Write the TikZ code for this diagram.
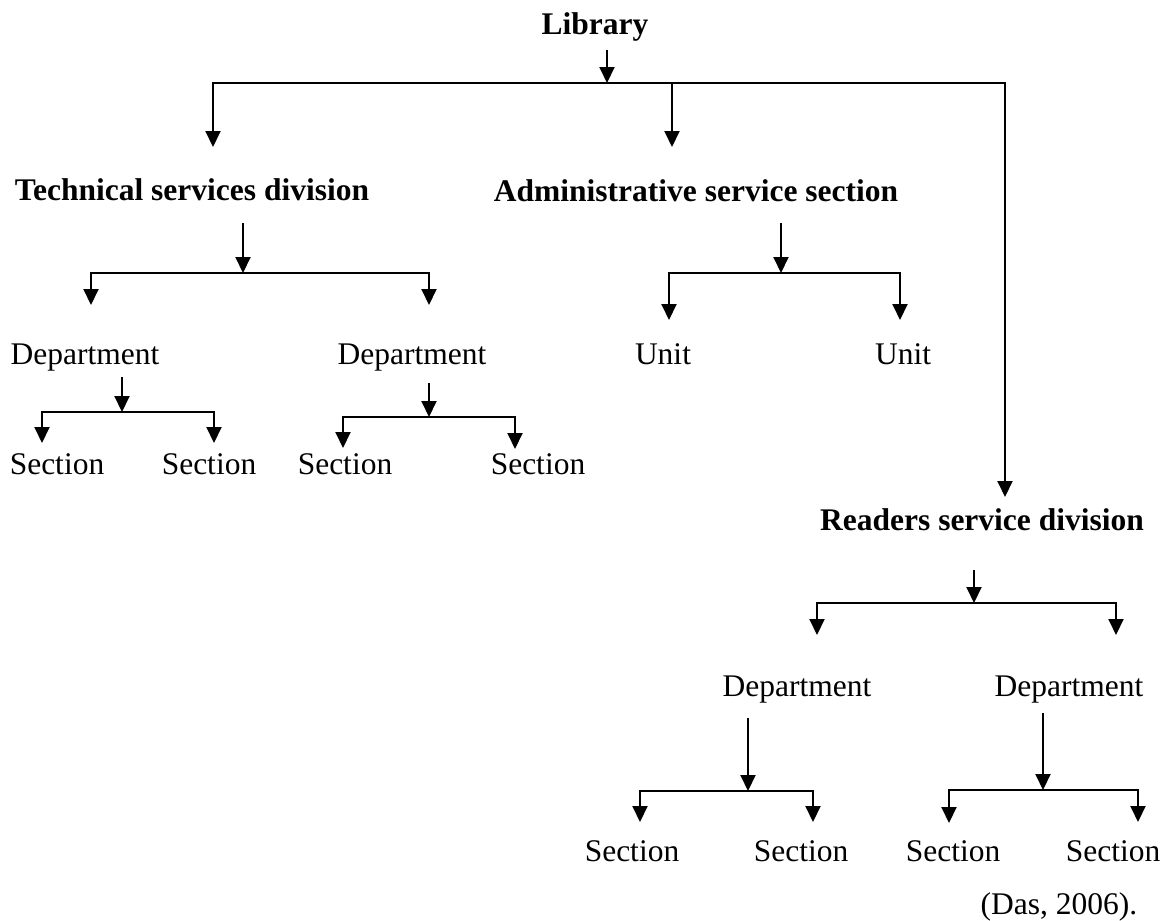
\documentclass[tikz,border=0pt]{standalone}
\usepackage{fontspec}
\setmainfont{Liberation Serif}
\usetikzlibrary{arrows.meta}

\begin{document}
\begin{tikzpicture}[x=0.5pt,y=-0.5pt,
		arr/.style={-{Triangle[length=8pt,width=7.5pt]},line width=1pt},
		txt/.style={anchor=base,inner sep=0pt,font=\fontsize{15.75}{19}\selectfont},
		head/.style={txt,font=\fontsize{15.75}{19}\selectfont\bfseries}]
		\useasboundingbox (0,0) rectangle (1173,921);
		\node[head] (lib)   at (595,34)  {Library};
		\node[head] (tech)  at (192,200) {Technical services division};
		\node[head] (admin) at (696,201) {Administrative service section};
		\node[head] (read)  at (982,530) {Readers service division};
		\node[txt] (d1) at (85,364)  {Department};
		\node[txt] (d2) at (412,364) {Department};
		\node[txt] (u1) at (663,364) {Unit};
		\node[txt] (u2) at (903,364) {Unit};
		\node[txt] (s1) at (57,474)  {Section};
		\node[txt] (s2) at (209,474) {Section};
		\node[txt] (s3) at (345,474) {Section};
		\node[txt] (s4) at (538,474) {Section};
		\node[txt] (rd1) at (797,696)  {Department};
		\node[txt] (rd2) at (1069,696) {Department};
		\node[txt] (rs1) at (632,861)  {Section};
		\node[txt] (rs2) at (801,861)  {Section};
		\node[txt] (rs3) at (953,861)  {Section};
		\node[txt] (rs4) at (1113,861) {Section};
		\node[txt] (src) at (1059,914) {(Das, 2006).};

		\coordinate (lib-out) at (607,50);   \coordinate (lib-bus) at (607,83);
		\coordinate (lib-fork) at (672,83);
		\coordinate (tech-in) at (213,147);  \coordinate (admin-in) at (672,147);
		\coordinate (read-in) at (1005,497);
		\draw[arr] (lib-out) -- (lib-bus);
		\draw[arr] (lib-bus) -| (tech-in);
		\draw[arr] (lib-fork) -- (admin-in);
		\draw[arr] (lib-bus) -| (read-in);

		\coordinate (tech-out) at (243,223); \coordinate (tech-bus) at (243,273);
		\coordinate (d1-in) at (91,305);     \coordinate (d2-in) at (429,305);
		\draw[arr] (tech-out) -- (tech-bus);
		\draw[arr] (tech-bus) -| (d1-in);
		\draw[arr] (tech-bus) -| (d2-in);

		\coordinate (admin-out) at (781,223); \coordinate (admin-bus) at (781,273);
		\coordinate (u1-in) at (669,320);     \coordinate (u2-in) at (900,320);
		\draw[arr] (admin-out) -- (admin-bus);
		\draw[arr] (admin-bus) -| (u1-in);
		\draw[arr] (admin-bus) -| (u2-in);

		\coordinate (d1-out) at (122,377);  \coordinate (d1-bus) at (122,412);
		\coordinate (s1-in) at (42,443);    \coordinate (s2-in) at (214,443);
		\draw[arr] (d1-out) -- (d1-bus);
		\draw[arr] (d1-bus) -| (s1-in);
		\draw[arr] (d1-bus) -| (s2-in);

		\coordinate (d2-out) at (429,383);  \coordinate (d2-bus) at (429,417);
		\coordinate (s3-in) at (343,448);   \coordinate (s4-in) at (515,449);
		\draw[arr] (d2-out) -- (d2-bus);
		\draw[arr] (d2-bus) -| (s3-in);
		\draw[arr] (d2-bus) -| (s4-in);

		\coordinate (read-out) at (974,570); \coordinate (read-bus) at (974,603);
		\coordinate (rd1-in) at (817,635);   \coordinate (rd2-in) at (1116,635);
		\draw[arr] (read-out) -- (read-bus);
		\draw[arr] (read-bus) -| (rd1-in);
		\draw[arr] (read-bus) -| (rd2-in);

		\coordinate (rd1-out) at (748,718);  \coordinate (rd1-bus) at (748,791);
		\coordinate (rs1-in) at (640,822);   \coordinate (rs2-in) at (813,822);
		\draw[arr] (rd1-out) -- (rd1-bus);
		\draw[arr] (rd1-bus) -| (rs1-in);
		\draw[arr] (rd1-bus) -| (rs2-in);

		\coordinate (rd2-out) at (1043,713); \coordinate (rd2-bus) at (1043,790);
		\coordinate (rs3-in) at (949,823);   \coordinate (rs4-in) at (1138,822);
		\draw[arr] (rd2-out) -- (rd2-bus);
		\draw[arr] (rd2-bus) -| (rs3-in);
		\draw[arr] (rd2-bus) -| (rs4-in);
	\end{tikzpicture}
\end{document}
